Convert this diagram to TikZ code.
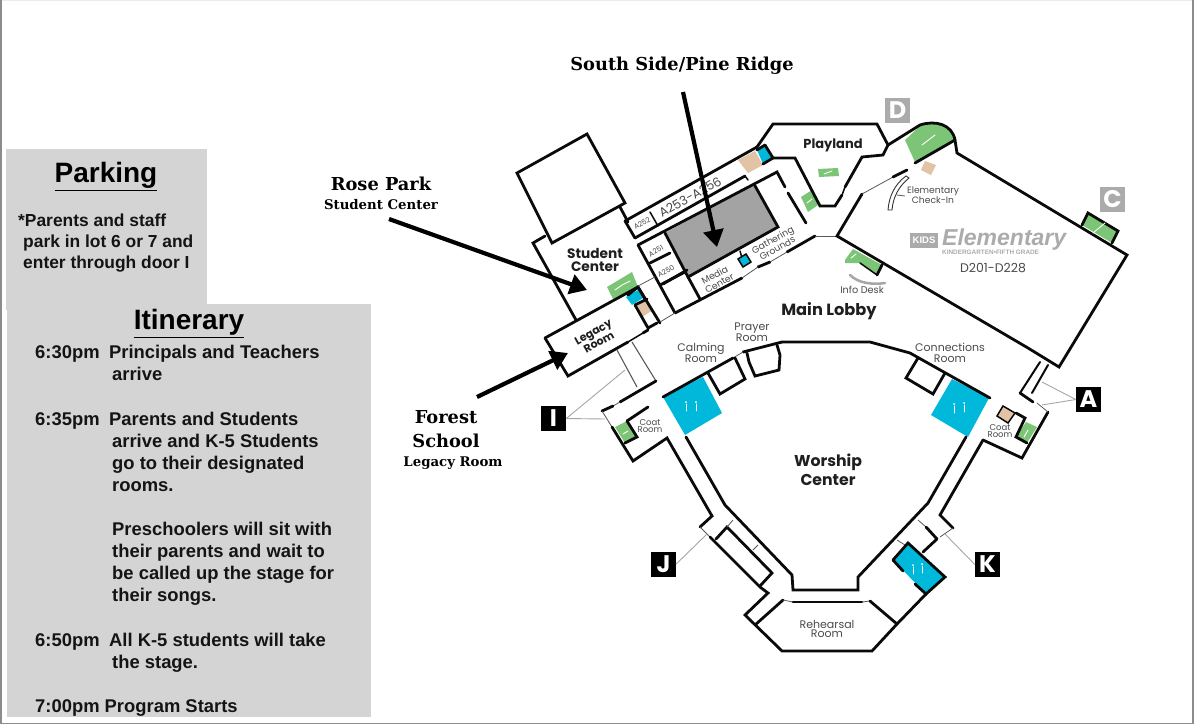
\documentclass[tikz,border=0pt]{standalone}
\usepackage{fontspec}
\setmainfont{Liberation Sans}
\newfontfamily\mapf{Poppins}
\newfontfamily\slab{DejaVu Serif}
\usetikzlibrary{arrows.meta}
\definecolor{panel}{HTML}{D4D4D4}
\definecolor{frameg}{HTML}{8C8C8C}
\definecolor{wall}{HTML}{0A0A0A}
\definecolor{cyn}{HTML}{00B9DA}
\definecolor{grn}{HTML}{7CC576}
\definecolor{bge}{HTML}{E3C3A5}
\definecolor{rm}{HTML}{4A4A4A}
\definecolor{dgray}{HTML}{A3A3A3}
\definecolor{lgray}{HTML}{ABABAB}
\tikzset{
 w/.style={draw=wall,line width=2.8pt,line cap=round,line join=miter},
 wm/.style={draw=wall,line width=2pt,line cap=round,line join=miter},
 ws/.style={draw=wall,line width=1.5pt,line cap=round},
 wt/.style={draw=black!65,line width=0.8pt},
 lead/.style={draw=black!35,line width=0.9pt},
 ptext/.style={font=\bfseries\fontsize{18.4}{22}\selectfont,anchor=west,inner sep=0pt,text height=13pt,text depth=4pt,text=black!92},
 pktext/.style={ptext,font=\bfseries\fontsize{17.4}{22}\selectfont},
 ptitle/.style={font=\bfseries\fontsize{28}{30}\selectfont,inner sep=0pt},
 slabA/.style={font=\slab\bfseries\fontsize{17.8}{24}\selectfont,inner sep=0pt,align=center},
 slabB/.style={font=\slab\bfseries\fontsize{13.3}{15}\selectfont,inner sep=0pt},
 rl/.style={font=\mapf\fontsize{11}{11}\selectfont,text=rm,inner sep=0pt,align=center},
 rb/.style={font=\mapf\bfseries\fontsize{13}{13.5}\selectfont,text=black!88,inner sep=0pt,align=center},
 tiny/.style={font=\mapf\fontsize{7.2}{7}\selectfont,text=rm,inner sep=0pt,align=center},
 door/.style={minimum size=25pt,inner sep=0pt,fill=black,text=white,font=\mapf\bfseries\fontsize{24}{24}\selectfont},
 doorg/.style={minimum size=25pt,inner sep=0pt,fill=lgray,text=white,font=\mapf\bfseries\fontsize{24}{24}\selectfont},
 bigarrow/.style={draw=black,line width=4.2pt,-{Triangle[length=17pt,width=20pt]}},
 ico/.style={draw=white,line width=0.9pt,line cap=round},
}
\begin{document}
\begin{tikzpicture}[x=1pt,y=-1pt]
\useasboundingbox (0,0) rectangle (1194,724);
% page frame
\fill[white] (0,0) rectangle (1194,724);
\fill[black!8] (0,0) rectangle (1194,1);
\fill[frameg] (0,0) rectangle (2,724);
\fill[frameg] (1192,0) rectangle (1194,724);
\fill[frameg] (0,722.5) rectangle (1194,724);
% panels
\fill[panel] (6,149) rectangle (207,310);
\fill[panel] (7,304) rectangle (371,717);
\node[ptitle] (parking) at (106,176.5) {\underline{Parking}};
\node[ptitle] (itin) at (189,323.5) {\underline{Itinerary}};
\node[pktext] (p1) at (18,221.5) {*Parents and staff};
\node[pktext] (p2) at (23,242.5) {park in lot 6 or 7 and};
\node[pktext] (p3) at (23,263.5) {enter through door I};
\node[ptext] (t1) at (35,353.5) {6:30pm};
\node[ptext] (a1) at (109,353.5) {Principals and Teachers};
\node[ptext] (a2) at (112,375.5) {arrive};
\node[ptext] (t2) at (35,420.5) {6:35pm};
\node[ptext] (b1) at (109,420.5) {Parents and Students};
\node[ptext] (b2) at (112,442.5) {arrive and K-5 Students};
\node[ptext] (b3) at (112,464.5) {go to their designated};
\node[ptext] (b4) at (112,486.5) {rooms.};
\node[ptext] (c1) at (112,530.5) {Preschoolers will sit with};
\node[ptext] (c2) at (112,552.5) {their parents and wait to};
\node[ptext] (c3) at (112,574.5) {be called up the stage for};
\node[ptext] (c4) at (112,596.5) {their songs.};
\node[ptext] (t3) at (35,641.5) {6:50pm};
\node[ptext] (d1) at (109,641.5) {All K-5 students will take};
\node[ptext] (d2) at (112,663.5) {the stage.};
\node[ptext] (t4) at (35,707.5) {7:00pm Program Starts};
% fills
\fill[dgray] (754,184)--(778,227)--(688,277)--(665,233)--cycle;
\fill[grn] (607,287)--(632,272)--(638,287)--(613,299)--cycle;
\fill[cyn] (626,297)--(638,290)--(643,298)--(632,305)--cycle;
\fill[bge] (635,307)--(647,300)--(653,310)--(642,317)--cycle;
\fill[cyn] (757,150)--(765,145)--(773,158)--(763,164)--cycle;
\fill[bge] (738,160)--(755,151)--(763,165)--(748,173)--cycle;
\fill[grn] (818,169)--(838,168)--(839,176)--(819,177)--cycle;
\fill[grn] (801,197)--(812,190)--(818,205)--(808,212)--cycle;
\fill[grn] (905,140)--(920,126) .. controls (935,120) and (952,124) .. (955,140)--(915,162)--cycle;
\fill[grn] (1082,225)--(1088,213)--(1118,231)--(1112,243)--cycle;
\fill[grn] (845,260)--(853,249)--(882,265)--(877,275)--(860,263)--(845,263)--cycle;
\fill[bge] (925,161)--(936,165)--(931,175)--(921,170)--cycle;
\fill[cyn] (663,397)--(703,377)--(722,413)--(685,435)--cycle;
\fill[cyn] (952,379)--(989,398)--(968,437)--(931,415)--cycle;
\fill[cyn] (908,543)--(945,577)--(926,594)--(893,560)--cycle;
\fill[grn] (615,427)--(627,421)--(637,437)--(625,443)--cycle;
\fill[grn] (1026,422)--(1037,427)--(1027,443)--(1016,437)--cycle;
\fill[bge] (1003,406)--(1015,413)--(1008,423)--(997,416)--cycle;
% west wing
\draw[w] (587,134)--(625,203)--(552,243)--(517,173)--cycle;
\draw[w] (545,236)--(533,243)--(576,320);
\draw[w] (620,207)--(628,222);
\draw[w] (545,338)--(638,287)--(660,323);
\draw[w] (545,338)--(568,376)--(628,342);
\draw[w] (635,305)--(648,328)--(657,323);
\draw[ws] (628,342)--(643,333);
\draw[w] (643,333)--(648,330);
\draw[w] (635,305)--(647,299);
\draw[w] (628,295)--(638,287)--(645,299);
\draw[w] (625,221)--(757,147);
\draw[w] (635,238)--(745,176);
\draw[w] (625,221)--(635,238);
\draw[ws] (650,212)--(658,226);
\draw[ws] (745,176)--(748,180);
\draw[w] (638,245)--(777,172)--(785,187);
\draw[w] (788,193)--(806,223);
\draw[w] (754,184)--(778,227)--(688,277)--(665,233);
\draw[w] (638,245)--(675,313);
\draw[w] (650,263)--(670,253);
\draw[w] (660,285)--(685,272);
\draw[w] (663,284)--(687,270);
\draw[w] (688,277)--(700,299);
\draw[w] (675,313)--(742,278);
\draw[w] (758,267)--(770,262);
\draw[w] (787,252)--(815,236);
\draw[wt] (815,236)--(837,236);
\draw[wt] (742,278)--(758,267);
\draw[wt] (770,262)--(787,252);
\draw[wt] (660,322)--(675,313);
\draw[wt] (638,286)--(655,277);
\draw[ws] (740,251)--(742,258);
\fill[cyn,draw=wall,line width=1.5pt] (738,259)--(746,254)--(751,262)--(743,267)--cycle;
% playland
\draw[w] (757,147)--(773,124)--(877,124)--(888,145)--(883,155)--(862,157)--(845,187);
\draw[ws] (845,187)--(842,195);
\draw[w] (842,195)--(835,206)--(820,206)--(795,158)--(772,158);
\draw[w] (757,150)--(765,145);
\draw[w] (765,145)--(773,158)--(763,164);
% elementary
\draw[w] (888,145)--(920,125) .. controls (935,120) and (952,124) .. (955,140)--(957,153)--(1127,255)--(1059,367)--(1028,348)--(837,236)--(862,194);
\draw[wt] (862,194)--(893,177);
\draw[w] (893,177)--(907,170);
\draw[w] (915,163)--(955,140);
\draw[w] (1082,225)--(1088,213)--(1118,231)--(1112,243);
\draw[w] (877,275)--(882,265);
\draw[ws] (860,263)--(877,275);
\fill[white,draw=black!80,line width=0.9pt] (906,176)--(909,178) .. controls (899,186) and (893,197) .. (892,210)--(888,210) .. controls (889,196) and (895,184) .. (906,176)--cycle;
\draw[wt] (897,195)--(905,196);
\draw[draw=black!35,line width=2.5pt,line cap=round] (850,275) .. controls (858,283) and (872,285) .. (885,283);
% south lobby
\draw[w] (782,342)--(743,352);
\draw[wt] (743,352)--(733,358);
\draw[w] (733,358)--(663,397);
\draw[w] (708,373)--(720,394)--(745,379)--(735,358);
\draw[w] (747,353)--(749,362)--(755,376)--(779,370)--(780,355)--(777,345);
\draw[w] (782,342)--(870,342)--(910,353)--(990,398);
\draw[w] (918,358)--(906,378)--(933,394)--(945,373);
% I wing
\draw[wt,line width=1.1pt] (617,350)--(637,387);
\draw[wt,line width=1.1pt] (632,342)--(656,381);
\draw[w] (656,381)--(620,402);
\draw[wt] (620,402)--(613,406);
\draw[w] (613,406)--(602,411);
\draw[wt] (602,411)--(612,427);
\draw[w] (612,427)--(633,461)--(667,438)--(712,516)--(700,527);
\draw[wt] (700,527)--(710,537);
\draw[w] (710,537)--(760,587)--(768,593)--(745,615)--(782,651)--(872,651)--(897,624);
\draw[w] (627,421)--(648,407);
\draw[w] (627,421)--(637,437)--(625,443);
\draw[w] (686,437)--(725,505)--(792,575)--(793,590)--(858,590)--(858,577)--(928,503)--(966,437);
\draw[w] (716,539)--(727,527)--(772,573)--(760,586);
\draw[wt] (727,527)--(733,520);
\draw[wt] (753,550)--(758,545);
\draw[w] (755,625)--(783,600);
\draw[wt] (783,600)--(793,602);
\draw[w] (793,602)--(862,602);
\draw[wt] (862,602)--(870,601);
\draw[w] (870,601)--(897,624);
% east
\draw[w] (983,440)--(940,515)--(953,528);
\draw[wt] (953,528)--(940,537);
\draw[w] (937,539)--(923,552);
\draw[w] (983,440)--(1022,458)--(1048,412);
\draw[wt] (1048,412)--(1037,403);
\draw[w] (1033,402)--(1020,393);
\draw[wm] (1020,393)--(1040,362);
\draw[wm] (1032,393)--(1048,365);
\draw[w] (1016,413)--(1025,418)--(1016,437)--(1027,443);
\draw[ws] (997,416)--(1003,406)--(1015,413)--(1008,423)--cycle;
\draw[wt] (918,520)--(926,527);
\draw[w] (926,527)--(937,539);
\draw[wt] (897,540)--(905,545);
\draw[w] (893,560)--(908,543)--(945,577)--(926,594)--(915,584);
\draw[w] (893,560)--(903,571);
\draw[w] (926,594)--(897,624);
% small icons
\draw[ico] (615,290)--(622,285)--(630,281);
\draw[ico] (824,174)--(832,171);
\draw[ico] (807,203)--(812,199);
\draw[ico] (922,145)--(935,135);
\draw[ico] (1093,233)--(1105,223);
\draw[ico] (851,258)--(856,254);
\draw[ico] (623,434)--(628,431);
\draw[ico] (1024,437)--(1028,430);
\foreach \x/\y in {686/404,696/404,954/406,964/405,913/567,922/566}{\draw[ico] (\x,\y)--(\x,\y+7);\fill[white] (\x,\y-2) circle (1pt);}
% door boxes
\node[door] (dI) at (553.5,418.5) {I};
\node[door] (dJ) at (663.5,564) {J};
\node[door] (dK) at (987.5,564.5) {K};
\node[door] (dA) at (1088.5,399.5) {A};
\node[doorg] (dC) at (1112.5,199.5) {C};
\node[doorg] (dD) at (897.5,110.5) {D};
\coordinate (i1) at (625,370); \coordinate (i2) at (605,419);
\coordinate (j1) at (707,534); \coordinate (k1) at (945,534);
\coordinate (a1c) at (1042,382); \coordinate (a2c) at (1042,405);
\draw[lead] (dI.east)--(i1);
\draw[lead] (dI.east)--(i2);
\draw[lead] (dJ.east)--(j1);
\draw[lead] (dK.west)--(k1);
\draw[lead] (dA.west)--(a1c);
\draw[lead] (dA.west)--(a2c);
% room labels
\node[rb] (playland) at (833,145) {Playland};
\node[rb,font=\mapf\bfseries\fontsize{13.7}{13.5}\selectfont] (student) at (595,260) {Student\\Center};
\node[rb,font=\mapf\bfseries\fontsize{16.2}{16}\selectfont] (lobby) at (829,311) {Main Lobby};
\node[rb,font=\mapf\bfseries\fontsize{15.7}{19}\selectfont] (worship) at (828,470) {Worship\\Center};
\node[rb,rotate=29,font=\mapf\bfseries\fontsize{11}{11.5}\selectfont] (legacy) at (596,337) {Legacy\\Room};
\node[rl,rotate=29,font=\mapf\fontsize{12.5}{13}\selectfont] (a253) at (690,197) {A253-A256};
\node[tiny,rotate=29] (a252) at (642,223) {A252};
\node[tiny,rotate=29] (a251) at (656,251) {A251};
\node[tiny,rotate=29] (a250) at (666,271) {A250};
\node[rl,rotate=29,font=\mapf\fontsize{9.2}{9.5}\selectfont] (media) at (717,279) {Media\\Center};
\node[rl,rotate=29,font=\mapf\fontsize{9.2}{9.5}\selectfont] (gather) at (775,244) {Gathering\\Grounds};
\node[rl] (calming) at (701,353) {Calming\\Room};
\node[rl] (prayer) at (752,332) {Prayer\\Room};
\node[rl] (conn) at (950,353) {Connections\\Room};
\node[rl,font=\mapf\fontsize{9.2}{9}\selectfont] (check) at (933,195) {Elementary\\Check-In};
\node[rl,font=\mapf\fontsize{9.7}{9}\selectfont] (info) at (862,290) {Info Desk};
\node[tiny,font=\mapf\fontsize{8.5}{6.5}\selectfont] (coat1) at (650,426) {Coat\\Room};
\node[tiny,font=\mapf\fontsize{8.5}{6.5}\selectfont] (coat2) at (1000,431) {Coat\\Room};
\node[rl,font=\mapf\fontsize{11}{9}\selectfont] (reh) at (827,629) {Rehearsal\\Room};
\node[rl,font=\mapf\fontsize{12.5}{11}\selectfont] (drange) at (993,268) {D201-D228};
% kids logo
\node[fill=lgray,text=white,inner sep=1pt,minimum width=28pt,minimum height=15pt,font=\bfseries\fontsize{9.5}{9}\selectfont] (kids) at (924,240) {KIDS};
\node[inner sep=0pt,text=lgray,anchor=west,font=\bfseries\itshape\fontsize{23}{24}\selectfont] (elem) at (942,240) {Elementary};
\node[inner sep=0pt,text=lgray,anchor=west,font=\bfseries\fontsize{6.4}{5}\selectfont] (kfg) at (942,252.5) {KINDERGARTEN•FIFTH GRADE};
% slab labels and arrows
\node[slabA] (ss) at (682,66) {South Side/Pine Ridge};
\node[slabA] (rp) at (381,184) {Rose Park};
\node[slabB] (sc) at (381,205) {Student Center};
\node[slabA] (fs) at (446,429) {Forest\\School};
\node[slabB] (lr) at (453,463) {Legacy Room};
\coordinate (ssA) at (683,92); \coordinate (ssB) at (717,247);
\coordinate (rpA) at (389,219); \coordinate (rpB) at (587,290);
\coordinate (fsA) at (477,397); \coordinate (fsB) at (568,353);
\draw[bigarrow] (ssA)--(ssB);
\draw[bigarrow] (rpA)--(rpB);
\draw[bigarrow] (fsA)--(fsB);
\end{tikzpicture}
\end{document}
